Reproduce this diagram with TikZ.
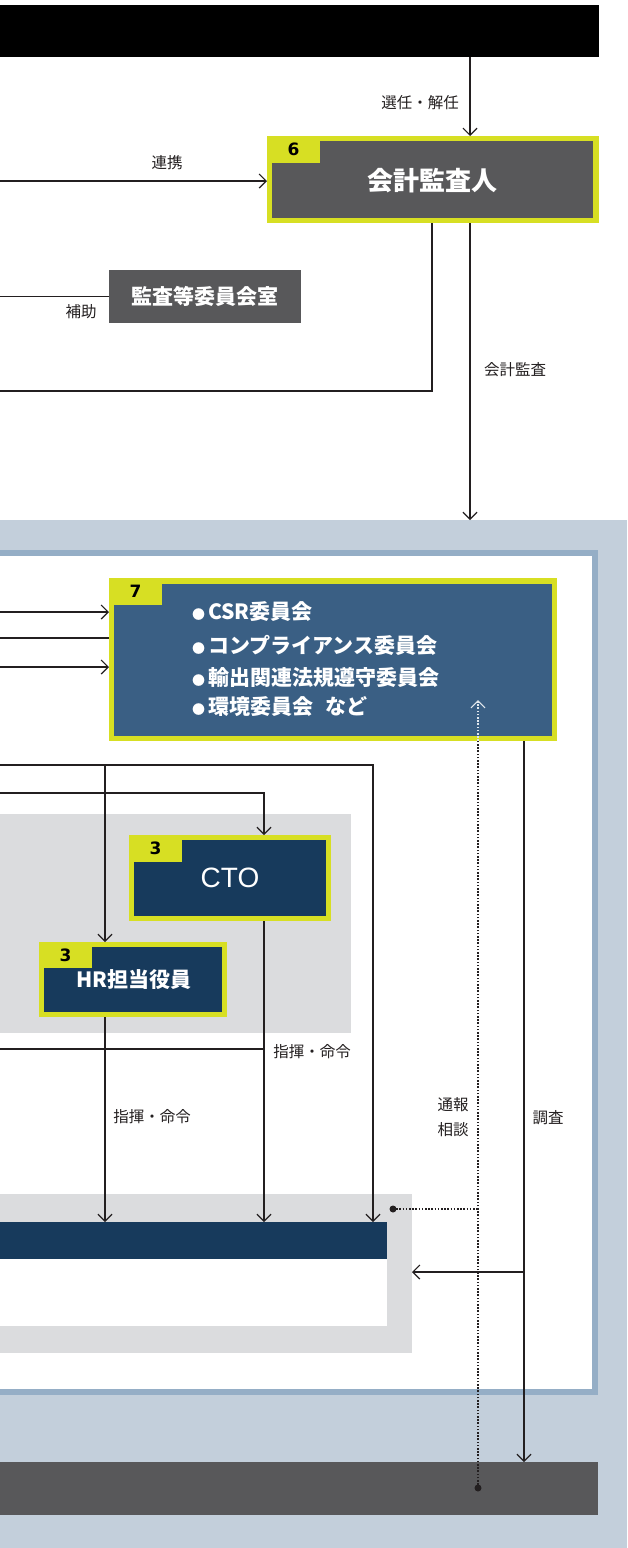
\documentclass[tikz,border=0pt]{standalone}
\usepackage{fontspec}
\setmainfont{Noto Sans CJK JP}
\newfontfamily\numfont{DejaVu Sans}
\newfontfamily\latinfont{Liberation Sans}
\usetikzlibrary{arrows.meta}
\definecolor{yel}{HTML}{D7DF23}
\definecolor{dgrey}{HTML}{58585A}
\definecolor{cblue}{HTML}{3A5F84}
\definecolor{navy}{HTML}{173A5C}
\definecolor{lgrey}{HTML}{DBDCDE}
\definecolor{band}{HTML}{C3CFDB}
\definecolor{pborder}{HTML}{95AEC6}
\definecolor{ink}{HTML}{231F20}
\begin{document}
\begin{tikzpicture}[x=1pt,y=-1pt,
  ln/.style={draw=ink, line width=1.2pt},
  arr/.style={ln, -{Straight Barb[length=7pt,width=14pt]}},
  dotln/.style={draw=ink, line width=1.2pt, dash pattern=on 1.6pt off 1.6pt},
  lbl/.style={font=\fontsize{15.5}{17}\selectfont, text=ink, inner sep=0},
  rect/.style={inner sep=0, outer sep=0, anchor=north west, draw=none},
  tagnum/.style={font=\numfont\bfseries\fontsize{17}{17}\selectfont, text=black, inner sep=0},
  wtext/.style={text=white, inner sep=0},
  bul/.style={wtext, anchor=west, font=\bfseries\fontsize{21}{23}\selectfont},
  jdot/.style={circle, fill=ink, inner sep=0, minimum size=7pt}
]
\useasboundingbox (0,0) rectangle (627,1548);
% backgrounds
\node[rect, fill=white, minimum width=627pt, minimum height=1548pt] (bg) at (0,0) {};
\node[rect, fill=band, minimum width=627pt, minimum height=1028pt] (band) at (0,520) {};
\node[rect, fill=pborder, minimum width=608pt, minimum height=845pt] (panel) at (-10,550) {};
\node[rect, fill=white, minimum width=602pt, minimum height=833pt] (panelin) at (-10,556) {};
\node[rect, fill=dgrey, minimum width=608pt, minimum height=53pt] (botbar) at (-10,1462) {};
\node[rect, fill=black, minimum width=609pt, minimum height=52pt] (bar) at (-10,5) {};

% auditor box
\node[rect, fill=yel, minimum width=332pt, minimum height=87pt] (aud) at (267,136) {};
\node[rect, fill=dgrey, minimum width=321pt, minimum height=77pt] (audin) at (272,141) {};
\node[rect, fill=yel, minimum width=53pt, minimum height=27pt] (t6) at (267,136) {};
\node[tagnum] at (t6.center) {6};
\node[wtext, font=\bfseries\fontsize{26}{28}\selectfont] (audtxt) at (432,181) {会計監査人};

% audit committee office
\node[rect, fill=dgrey, minimum width=192pt, minimum height=53pt] (room) at (109,270) {};
\node[wtext, font=\bfseries\fontsize{21}{23}\selectfont] at (room.center) {監査等委員会室};

% committees box
\node[rect, fill=yel, minimum width=448pt, minimum height=163pt] (com) at (109,578) {};
\node[rect, fill=cblue, minimum width=438pt, minimum height=152pt] (comin) at (114,584) {};
\node[rect, fill=yel, minimum width=53pt, minimum height=27pt] (t7) at (109,578) {};
\node[tagnum] at (t7.center) {7};
\node[bul] (b1) at (192,612) {{\fontsize{13}{13}\selectfont ●}\kern3pt CSR委員会};
\node[bul] (b2) at (192,645) {{\fontsize{13}{13}\selectfont ●}\kern3pt コンプライアンス委員会};
\node[bul] (b3) at (192,677) {{\fontsize{13}{13}\selectfont ●}\kern3pt 輸出関連法規遵守委員会};
\node[bul] (b4) at (192,707) {{\fontsize{13}{13}\selectfont ●}\kern3pt 環境委員会\hspace{0.6em}など};

% grey area with CTO and HR
\node[rect, fill=lgrey, minimum width=361pt, minimum height=219pt] (ga) at (-10,814) {};
\node[rect, fill=yel, minimum width=202pt, minimum height=86pt] (cto) at (129,835) {};
\node[rect, fill=navy, minimum width=192pt, minimum height=76pt] (ctoin) at (134,840) {};
\node[rect, fill=yel, minimum width=53pt, minimum height=27pt] (t3a) at (129,835) {};
\node[tagnum] at (t3a.center) {3};
\node[wtext, font=\latinfont\fontsize{28}{30}\selectfont] at (230,878) {CTO};
\node[rect, fill=yel, minimum width=188pt, minimum height=75pt] (hr) at (39,942) {};
\node[rect, fill=navy, minimum width=178pt, minimum height=65pt] (hrin) at (44,947) {};
\node[rect, fill=yel, minimum width=53pt, minimum height=26pt] (t3b) at (39,942) {};
\node[tagnum] at (t3b.center) {3};
\node[wtext, font=\bfseries\fontsize{21}{23}\selectfont] at (134,980) {HR担当役員};

% lower grey area with navy bar
\node[rect, fill=lgrey, minimum width=422pt, minimum height=159pt] (lga) at (-10,1194) {};
\node[rect, fill=navy, minimum width=397pt, minimum height=37pt] (nbar) at (-10,1222) {};
\node[rect, fill=white, minimum width=397pt, minimum height=67pt] (wbar) at (-10,1259) {};

% coordinates
\coordinate (c470) at (470,0);
\coordinate (c432) at (432,0);
\coordinate (c524) at (524,0);
\coordinate (renL) at (0,181);
\coordinate (audL) at (0,391);
\coordinate (hojoL) at (0,0);
\coordinate (k1) at (0,612);
\coordinate (k2) at (0,638);
\coordinate (k3) at (0,667);
\coordinate (aL) at (0,765);
\coordinate (aR) at (373,765);
\coordinate (aB) at (105,765);
\coordinate (bL) at (0,793);
\coordinate (bR) at (264,793);
\coordinate (cL) at (0,1049);
\coordinate (br) at (524,1272);
\coordinate (dtop) at (478,700);

% connectors
\draw[arr] (bar.south -| c470) -- (aud.north -| c470);
\draw[arr] (renL) -- (renL -| aud.west);
\draw[ln] (aud.south -| c432) |- (audL);
\draw[arr] (aud.south -| c470) -- (band.north -| c470);
\draw[ln] (room.west) -- (room.west -| hojoL);
\draw[arr] (k1) -- (k1 -| com.west);
\draw[ln] (k2) -- (k2 -| com.west);
\draw[arr] (k3) -- (k3 -| com.west);
\draw[arr] (aL) -- (aR) -- (aR |- nbar.north);
\draw[arr] (aB) -- (aB |- hr.north);
\draw[arr] (bL) -- (bR) -- (bR |- cto.north);
\draw[arr] (hr.south -| aB) -- (nbar.north -| aB);
\draw[arr] (cto.south -| bR) -- (nbar.north -| bR);
\draw[ln] (cL) -- (cL -| bR);
\draw[arr] (com.south -| c524) -- (botbar.north -| c524);
\draw[arr] (br) -- (br -| lga.east);
\node[jdot] (d1) at (478,1488) {};
\node[jdot] (d2) at (393,1209) {};
\draw[dotln] (d1.center) -- (com.south -| d1);
\draw[dotln, draw=white!85!cblue, -{Straight Barb[length=7pt,width=14pt]}] (com.south -| d1) -- (dtop);
\draw[dotln] (d2.center) -- (d2 -| d1);

% labels
\node[lbl, anchor=east] at (459,103) {選任・解任};
\node[lbl] at (167,163) {連携};
\node[lbl] at (515,370) {会計監査};
\node[lbl] at (81,312) {補助};
\node[lbl] at (312,1052) {指揮・命令};
\node[lbl] at (152,1117) {指揮・命令};
\node[lbl] at (453,1105) {通報};
\node[lbl] at (453,1130) {相談};
\node[lbl] at (548,1118) {調査};
\end{tikzpicture}
\end{document}
